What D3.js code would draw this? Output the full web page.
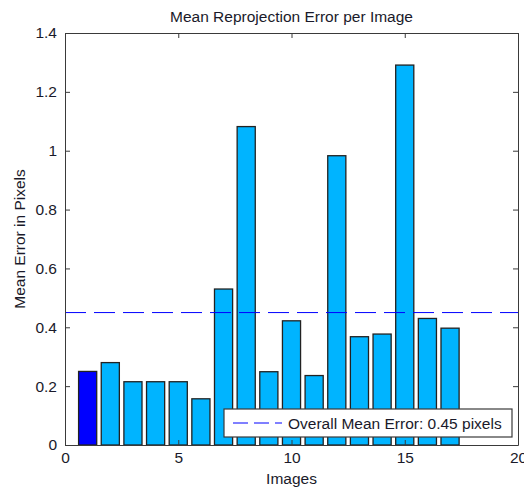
<!DOCTYPE html>
<html>
<head>
<meta charset="utf-8">
<script src="https://cdn.jsdelivr.net/npm/d3@7"></script>
<style>
  html, body { margin: 0; padding: 0; background: #fff; }
  svg { display: block; }
</style>
</head>
<body>
<div id="chart"></div>
<script>
// Mean reprojection error per image
const imageIds = [1, 2, 3, 4, 5, 6, 7, 8, 9, 10, 11, 12, 13, 14, 15, 16, 17];
const meanErrors = [0.25, 0.28, 0.215, 0.215, 0.215, 0.157, 0.53, 1.082, 0.249, 0.422, 0.236, 0.983, 0.368, 0.377, 1.291, 0.43, 0.397];
const highlighted = [1];
const overallMean = 0.45;
const xTicks = [0, 5, 10, 15, 20];
const yTicks = [0, 0.2, 0.4, 0.6, 0.8, 1, 1.2, 1.4];

const W = 524, H = 489;
const margin = { top: 33, right: 6, bottom: 44, left: 65 };
const FONT = "'Liberation Sans', Arial, sans-serif";
const FS = 15.5;

const svg = d3.select('#chart')
  .append('svg')
  .attr('width', W)
  .attr('height', H);

const x = d3.scaleLinear().domain([0, 20]).range([margin.left, W - margin.right]);
const y = d3.scaleLinear().domain([0, 1.4]).range([H - margin.bottom, margin.top]);

const barW = x(0.8) - x(0);

// Bars
svg.append('g')
  .selectAll('rect')
  .data(imageIds)
  .join('rect')
  .attr('x', (d) => x(d) - barW / 2)
  .attr('y', (d, i) => y(meanErrors[i]))
  .attr('width', barW)
  .attr('height', (d, i) => y(0) - y(meanErrors[i]))
  .attr('fill', (d) => highlighted.includes(d) ? '#0000FF' : '#00B4FF')
  .attr('stroke', '#222')
  .attr('stroke-width', 1.3);

// Overall mean line
svg.append('line')
  .attr('x1', x(0)).attr('x2', x(20))
  .attr('y1', y(overallMean)).attr('y2', y(overallMean))
  .attr('stroke', '#0000FF')
  .attr('stroke-width', 1)
  .attr('stroke-dasharray', '21,8');

// Axes, MATLAB style: ticks inside, on all four sides
const tickLen = 5;
const axisColor = '#3a3a3a';

const axBottom = svg.append('g')
  .attr('transform', `translate(0,${y(0)})`)
  .call(d3.axisBottom(x).tickValues(xTicks).tickSizeInner(-tickLen).tickSizeOuter(0).tickPadding(7).tickFormat(d3.format('d')));
const axTop = svg.append('g')
  .attr('transform', `translate(0,${y(1.4)})`)
  .call(d3.axisTop(x).tickValues(xTicks).tickSizeInner(-tickLen).tickSizeOuter(0).tickFormat(''));
const axLeft = svg.append('g')
  .attr('transform', `translate(${x(0)},0)`)
  .call(d3.axisLeft(y).tickValues(yTicks).tickSizeInner(-tickLen).tickSizeOuter(0).tickPadding(8).tickFormat(d3.format('~g')));
const axRight = svg.append('g')
  .attr('transform', `translate(${x(20)},0)`)
  .call(d3.axisRight(y).tickValues(yTicks).tickSizeInner(-tickLen).tickSizeOuter(0).tickFormat(''));

[axBottom, axTop, axLeft, axRight].forEach((g) => {
  g.selectAll('.domain').attr('stroke', axisColor);
  g.selectAll('.tick line').attr('stroke', axisColor);
  g.selectAll('text')
    .attr('font-family', FONT)
    .attr('font-size', FS)
    .attr('fill', '#1a1a2a');
});

// Title and axis labels
svg.append('text')
  .attr('x', (x(0) + x(20)) / 2)
  .attr('y', 22)
  .attr('text-anchor', 'middle')
  .attr('font-family', FONT)
  .attr('font-size', FS)
  .attr('fill', '#1a1a2a')
  .text('Mean Reprojection Error per Image');

svg.append('text')
  .attr('x', (x(0) + x(20)) / 2)
  .attr('y', 484)
  .attr('text-anchor', 'middle')
  .attr('font-family', FONT)
  .attr('font-size', FS)
  .attr('fill', '#1a1a2a')
  .text('Images');

svg.append('text')
  .attr('transform', `translate(25,${(y(0) + y(1.4)) / 2}) rotate(-90)`)
  .attr('text-anchor', 'middle')
  .attr('font-family', FONT)
  .attr('font-size', FS)
  .attr('fill', '#1a1a2a')
  .text('Mean Error in Pixels');

// Legend
const legend = svg.append('g').attr('transform', 'translate(224,409)');
legend.append('rect')
  .attr('width', 288)
  .attr('height', 28)
  .attr('fill', '#fff')
  .attr('stroke', axisColor)
  .attr('stroke-width', 1.2);
legend.append('line')
  .attr('x1', 9).attr('x2', 58)
  .attr('y1', 14).attr('y2', 14)
  .attr('stroke', '#0000FF')
  .attr('stroke-dasharray', '15,6');
legend.append('text')
  .attr('x', 64)
  .attr('y', 19.5)
  .attr('font-family', FONT)
  .attr('font-size', FS)
  .attr('fill', '#1a1a2a')
  .text('Overall Mean Error: 0.45 pixels');
</script>
</body>
</html>
